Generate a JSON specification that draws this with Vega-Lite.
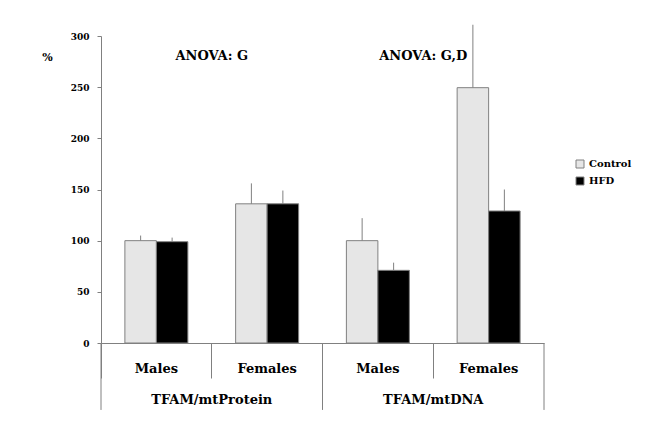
{
  "$schema": "https://vega.github.io/schema/vega-lite/v6.json",
  "width": 443,
  "height": 307,
  "autosize": {"type": "none"},
  "padding": {"left": 101, "top": 36, "right": 101, "bottom": 92},
  "background": "white",
  "config": {"view": {"stroke": null}, "font": "DejaVu Serif"},
  "datasets": {
    "bars": [
      {"cat": "TFAM/mtProtein|Males", "group": "Control", "value": 100, "hi": 105},
      {"cat": "TFAM/mtProtein|Males", "group": "HFD", "value": 99, "hi": 103},
      {"cat": "TFAM/mtProtein|Females", "group": "Control", "value": 136, "hi": 156},
      {"cat": "TFAM/mtProtein|Females", "group": "HFD", "value": 136, "hi": 149},
      {"cat": "TFAM/mtDNA|Males", "group": "Control", "value": 100, "hi": 122},
      {"cat": "TFAM/mtDNA|Males", "group": "HFD", "value": 71, "hi": 78.5},
      {"cat": "TFAM/mtDNA|Females", "group": "Control", "value": 249.5, "hi": 311},
      {"cat": "TFAM/mtDNA|Females", "group": "HFD", "value": 129, "hi": 150}
    ],
    "longsep": [{"cat": "TFAM/mtProtein|Males"}, {"cat": "TFAM/mtDNA|Males"}],
    "endsep": [{"cat": "TFAM/mtDNA|Females"}],
    "grouplabels": [
      {"cat": "TFAM/mtProtein|Females", "text": "TFAM/mtProtein"},
      {"cat": "TFAM/mtDNA|Females", "text": "TFAM/mtDNA"}
    ],
    "anova1": [{"cat": "TFAM/mtProtein|Females", "text": "ANOVA: G"}],
    "anova2": [{"cat": "TFAM/mtDNA|Females", "text": "ANOVA: G,D"}]
  },
  "layer": [
    {
      "data": {"name": "bars"},
      "mark": {"type": "bar", "stroke": "#808080", "strokeWidth": 1},
      "encoding": {
        "x": {
          "field": "cat", "type": "nominal", "sort": null,
          "scale": {"type": "band", "domain": ["TFAM/mtProtein|Males", "TFAM/mtProtein|Females", "TFAM/mtDNA|Males", "TFAM/mtDNA|Females"], "paddingInner": 0, "paddingOuter": 0},
          "axis": {
            "title": null, "labelExpr": "split(datum.value,'|')[1]", "bandPosition": 0,
            "tickSize": 35, "tickColor": "#808080", "domainColor": "#808080",
            "labelFont": "DejaVu Serif", "labelFontWeight": "bold", "labelFontSize": 13,
            "labelColor": "black", "labelAngle": 0, "labelBaseline": "middle", "labelPadding": -10,
            "labelFlush": false, "labelOverlap": false, "grid": false
          }
        },
        "xOffset": {"field": "group", "type": "nominal", "scale": {"domain": ["Control", "HFD"], "paddingInner": 0, "paddingOuter": 0.758}},
        "y": {
          "field": "value", "type": "quantitative",
          "scale": {"domain": [0, 300], "nice": false, "zero": true},
          "axis": {
            "title": "%", "titleAngle": 0, "titleX": -54, "titleY": 21, "titleAlign": "center", "titleBaseline": "middle",
            "titleFont": "DejaVu Serif", "titleFontWeight": "bold", "titleFontSize": 11, "titleColor": "black",
            "values": [0, 50, 100, 150, 200, 250, 300], "tickSize": 4, "tickColor": "#808080", "domainColor": "#808080",
            "labelFont": "DejaVu Serif", "labelFontWeight": "bold", "labelFontSize": 9, "labelColor": "black",
            "labelPadding": 8, "grid": false
          }
        },
        "fill": {
          "field": "group", "type": "nominal",
          "scale": {"domain": ["Control", "HFD"], "range": ["#e6e6e6", "#000000"]},
          "legend": {
            "orient": "none", "legendX": 474, "legendY": 123, "title": null, "symbolType": "square",
            "symbolSize": 64, "symbolStrokeColor": "#808080", "symbolStrokeWidth": 1,
            "labelFont": "DejaVu Serif", "labelFontWeight": "bold", "labelFontSize": 10, "labelColor": "black",
            "rowPadding": 5, "padding": 0, "labelOffset": 4
          }
        }
      }
    },
    {
      "data": {"name": "bars"},
      "mark": {"type": "rule", "stroke": "#808080", "strokeWidth": 1},
      "encoding": {
        "x": {"field": "cat", "type": "nominal", "sort": null, "scale": {"type": "band", "domain": ["TFAM/mtProtein|Males", "TFAM/mtProtein|Females", "TFAM/mtDNA|Males", "TFAM/mtDNA|Females"], "paddingInner": 0, "paddingOuter": 0}},
        "xOffset": {"field": "group", "type": "nominal", "scale": {"domain": ["Control", "HFD"], "paddingInner": 0, "paddingOuter": 0.758}},
        "y": {"field": "value", "type": "quantitative", "scale": {"domain": [0, 300], "nice": false}},
        "y2": {"field": "hi"}
      }
    },
    {
      "data": {"name": "longsep"},
      "mark": {"type": "rule", "stroke": "#808080", "strokeWidth": 1},
      "encoding": {
        "x": {"field": "cat", "type": "nominal", "sort": null, "bandPosition": 0, "scale": {"type": "band", "domain": ["TFAM/mtProtein|Males", "TFAM/mtProtein|Females", "TFAM/mtDNA|Males", "TFAM/mtDNA|Females"], "paddingInner": 0, "paddingOuter": 0}},
        "y": {"datum": 0, "type": "quantitative", "scale": {"domain": [0, 300], "nice": false}},
        "y2": {"datum": -65.4}
      }
    },
    {
      "data": {"name": "endsep"},
      "mark": {"type": "rule", "stroke": "#808080", "strokeWidth": 1},
      "encoding": {
        "x": {"field": "cat", "type": "nominal", "sort": null, "bandPosition": 1, "scale": {"type": "band", "domain": ["TFAM/mtProtein|Males", "TFAM/mtProtein|Females", "TFAM/mtDNA|Males", "TFAM/mtDNA|Females"], "paddingInner": 0, "paddingOuter": 0}},
        "y": {"datum": 0, "type": "quantitative", "scale": {"domain": [0, 300], "nice": false}},
        "y2": {"datum": -65.4}
      }
    },
    {
      "data": {"name": "grouplabels"},
      "mark": {"type": "text", "font": "DejaVu Serif", "fontWeight": "bold", "fontSize": 13, "align": "center", "baseline": "middle", "color": "black"},
      "encoding": {
        "x": {"field": "cat", "type": "nominal", "sort": null, "bandPosition": 0, "scale": {"type": "band", "domain": ["TFAM/mtProtein|Males", "TFAM/mtProtein|Females", "TFAM/mtDNA|Males", "TFAM/mtDNA|Females"], "paddingInner": 0, "paddingOuter": 0}},
        "y": {"datum": -55.6, "type": "quantitative", "scale": {"domain": [0, 300], "nice": false}},
        "text": {"field": "text"}
      }
    },
    {
      "data": {"name": "anova1"},
      "mark": {"type": "text", "font": "DejaVu Serif", "fontWeight": "bold", "fontSize": 13, "align": "center", "baseline": "middle", "color": "black"},
      "encoding": {
        "x": {"field": "cat", "type": "nominal", "sort": null, "bandPosition": 0, "scale": {"type": "band", "domain": ["TFAM/mtProtein|Males", "TFAM/mtProtein|Females", "TFAM/mtDNA|Males", "TFAM/mtDNA|Females"], "paddingInner": 0, "paddingOuter": 0}},
        "y": {"datum": 280, "type": "quantitative", "scale": {"domain": [0, 300], "nice": false}},
        "text": {"field": "text"}
      }
    },
    {
      "data": {"name": "anova2"},
      "mark": {"type": "text", "font": "DejaVu Serif", "fontWeight": "bold", "fontSize": 13, "align": "center", "baseline": "middle", "color": "black", "dx": -10},
      "encoding": {
        "x": {"field": "cat", "type": "nominal", "sort": null, "bandPosition": 0, "scale": {"type": "band", "domain": ["TFAM/mtProtein|Males", "TFAM/mtProtein|Females", "TFAM/mtDNA|Males", "TFAM/mtDNA|Females"], "paddingInner": 0, "paddingOuter": 0}},
        "y": {"datum": 280, "type": "quantitative", "scale": {"domain": [0, 300], "nice": false}},
        "text": {"field": "text"}
      }
    }
  ]
}
